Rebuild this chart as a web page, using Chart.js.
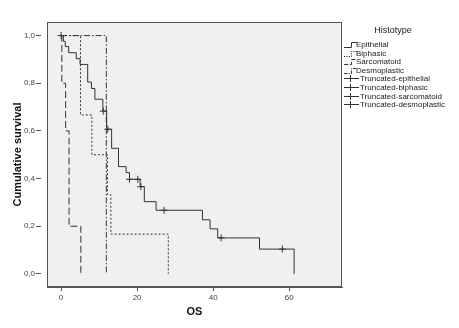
<!DOCTYPE html>
<html>
<head>
<meta charset="utf-8">
<script src="https://cdn.jsdelivr.net/npm/chart.js@4.4.0/dist/chart.umd.min.js"></script>
<style>
  body { margin: 0; background: #fff; font-family: "Liberation Sans", Arial, sans-serif; }
  #wrap { position: relative; width: 459px; height: 328px; }
  #legend { position: absolute; left: 0; top: 0; width: 459px; height: 328px; pointer-events: none; color: #222; }
  .ltitle { position: absolute; left: 343px; width: 100px; top: 25px; text-align: center; font-size: 9px; }
  .lrow { position: absolute; height: 9px; font-size: 8px; line-height: 9px; white-space: nowrap; }
  .lrow svg { position: absolute; left: 0; top: 0; }
  .lrow span { position: absolute; top: 0; }
</style>
</head>
<body>
<div id="wrap">
  <canvas id="kmChart"></canvas>
  <div id="legend"></div>
</div>
<script>
// axis ticks
const xTicks = [0, 20, 40, 60];
const yTicks = [0, 0.2, 0.4, 0.6, 0.8, 1.0];

// Kaplan-Meier steps (time in months, cumulative survival)
const epiTime = [0, 0.6, 1.1, 2.0, 4.0, 5.0, 7.0, 8.0, 8.9, 11.0, 12.0, 13.3, 15.1, 17.1, 18.0, 20.8, 21.9, 25.0, 37.2, 39.2, 41.2, 52.2, 61.3];
const epiSurv = [1.0, 0.976, 0.954, 0.928, 0.903, 0.879, 0.805, 0.778, 0.733, 0.683, 0.607, 0.527, 0.450, 0.425, 0.397, 0.366, 0.303, 0.267, 0.227, 0.189, 0.151, 0.104, 0];
const biTime = [0, 5.1, 8.1, 12.2, 13.1, 28.2];
const biSurv = [1.0, 0.667, 0.5, 0.333, 0.167, 0];
const sarcTime = [0, 0.2, 1.2, 2.1, 5.2];
const sarcSurv = [1.0, 0.8, 0.6, 0.2, 0];
const desmoTime = [0, 11.9];
const desmoSurv = [1.0, 0];

// censored cases (only epithelial has any)
const epiCensTime = [0, 11.1, 12.3, 18.0, 20.2, 21.0, 27.1, 42.1, 58.2];
const epiCensSurv = [1.0, 0.683, 0.607, 0.397, 0.397, 0.366, 0.267, 0.151, 0.104];

const legendLabels = ['Epithelial', 'Biphasic', 'Sarcomatoid', 'Desmoplastic',
  'Truncated-epithelial', 'Truncated-biphasic', 'Truncated-sarcomatoid', 'Truncated-desmoplastic'];

const lineCol = '#333';
const dashes = [[], [2, 2], [7, 3], [6, 2, 1.5, 2]];

function pts(xs, ys) { return xs.map((t, i) => ({ x: t, y: ys[i] })); }

function curve(label, xs, ys, dash) {
  return {
    label: label, data: pts(xs, ys), stepped: 'before',
    borderColor: lineCol, borderWidth: 1, borderDash: dash,
    pointRadius: 0, fill: false
  };
}

function censored(label, xs, ys) {
  return {
    label: label, data: pts(xs, ys), showLine: false,
    pointStyle: 'cross', pointRadius: 3.5, pointBorderWidth: 1,
    borderColor: lineCol, pointBorderColor: lineCol
  };
}

// grey plot area and frame like SPSS
const framePlugin = {
  id: 'frame',
  beforeDraw(chart) {
    const { ctx, chartArea: a } = chart;
    ctx.save();
    ctx.fillStyle = '#f0f0f0';
    ctx.fillRect(a.left, a.top, a.right - a.left, a.bottom - a.top);
    ctx.restore();
  },
  afterDraw(chart) {
    const { ctx, chartArea: a } = chart;
    ctx.save();
    ctx.strokeStyle = '#555';
    ctx.lineWidth = 1;
    ctx.strokeRect(Math.round(a.left) + 0.5, Math.round(a.top) + 0.5,
      Math.round(a.right - a.left) - 1, Math.round(a.bottom - a.top) - 1);
    ctx.restore();
  }
};

const fam = '"Liberation Sans", Arial, sans-serif';

new Chart(document.getElementById('kmChart'), {
  type: 'line',
  data: {
    datasets: [
      curve('Epithelial', epiTime, epiSurv, dashes[0]),
      curve('Biphasic', biTime, biSurv, dashes[1]),
      curve('Sarcomatoid', sarcTime, sarcSurv, dashes[2]),
      curve('Desmoplastic', desmoTime, desmoSurv, dashes[3]),
      censored('Truncated-epithelial', epiCensTime, epiCensSurv)
    ]
  },
  options: {
    responsive: true,
    maintainAspectRatio: false,
    animation: false,
    layout: { padding: { left: 0, top: 22, right: 117, bottom: 0 } },
    plugins: {
      legend: { display: false },
      tooltip: { enabled: false }
    },
    scales: {
      x: {
        type: 'linear', min: -3.7, max: 73.9,
        afterBuildTicks: s => { s.ticks = xTicks.map(v => ({ value: v })); },
        afterFit: s => { s.height = 41; },
        grid: { drawOnChartArea: false, tickLength: 4, color: '#555', tickColor: '#555' },
        border: { color: '#555' },
        ticks: { font: { size: 8, family: fam }, color: '#444', padding: 2, maxRotation: 0 },
        title: { display: true, text: 'OS', color: '#111',
          font: { size: 11, weight: 'bold', family: fam }, padding: { top: 0, bottom: 9 } }
      },
      y: {
        type: 'linear', min: -0.055, max: 1.057,
        afterBuildTicks: s => { s.ticks = yTicks.map(v => ({ value: v })); },
        afterFit: s => { s.width = 47; },
        grid: { drawOnChartArea: false, tickLength: 11, tickBorderDash: [5, 6], color: '#555', tickColor: '#555' },
        border: { color: '#555' },
        ticks: { font: { size: 8, family: fam }, color: '#444', padding: 1,
          callback: v => v.toFixed(1).replace('.', ',') },
        title: { display: true, text: 'Cumulative survival', color: '#111',
          font: { size: 11, weight: 'bold', family: fam }, padding: { top: 11, bottom: 0 } }
      }
    }
  },
  plugins: [framePlugin]
});

// legend, drawn in html at the right
const leg = document.getElementById('legend');
const t = document.createElement('div');
t.className = 'ltitle';
t.textContent = 'Histotype';
leg.appendChild(t);
legendLabels.forEach((name, i) => {
  const row = document.createElement('div');
  row.className = 'lrow';
  row.style.left = '344px';
  row.style.top = (40 + i * 8.6) + 'px';
  let svg;
  if (i < 4) {
    svg = '<svg width="14" height="9"><path d="M0,7.5 H7.5 V2.5 H13" fill="none" stroke="' + lineCol +
      '" stroke-width="1" stroke-dasharray="' + (dashes[i].length ? dashes[i].map(d => d * 0.6).join(' ') : 'none') + '"/></svg>';
  } else {
    svg = '<svg width="16" height="9"><path d="M0,4.5 H15 M6.5,1 V8" fill="none" stroke="' + lineCol + '" stroke-width="1"/></svg>';
  }
  row.innerHTML = svg + '<span style="left:' + (i < 4 ? 12 : 16) + 'px">' + name + '</span>';
  leg.appendChild(row);
});
</script>
</body>
</html>
